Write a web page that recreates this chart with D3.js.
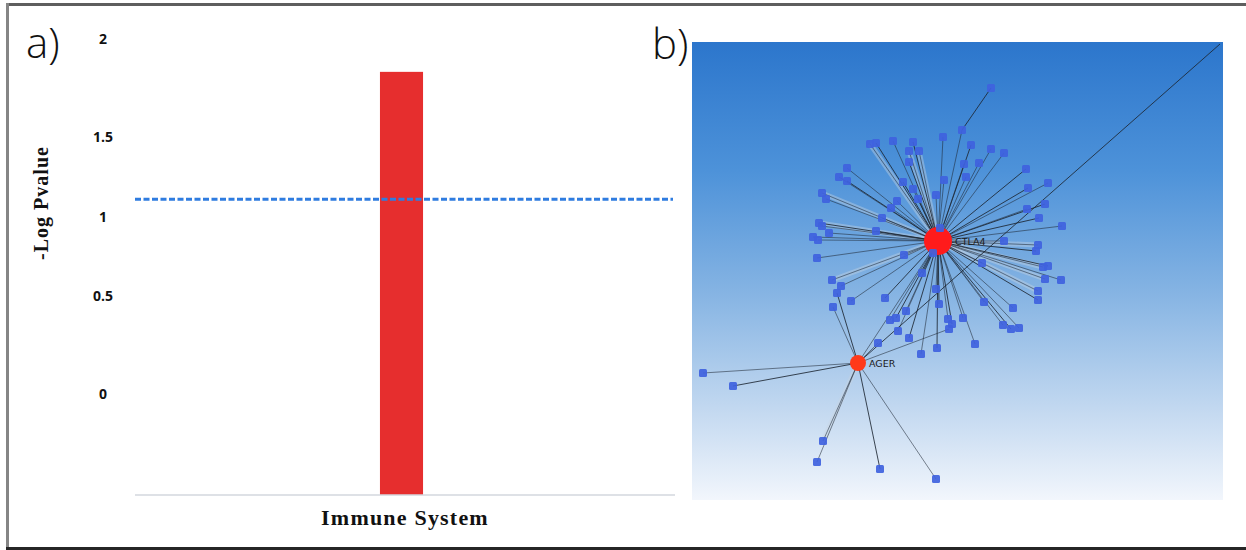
<!DOCTYPE html>
<html>
<head>
<meta charset="utf-8">
<script src="https://cdn.jsdelivr.net/npm/d3@7"></script>
<style>
  body { margin: 0; background: #fff; }
  svg { display: block; }
</style>
</head>
<body>
<div id="figure"></div>
<script>
// 1: DATA
const barCategories = ["Immune System"];
const barValues = [1.86];
const threshold = 1.3;          // -log10(0.05)
const yTickValues = [0, 0.5, 1, 1.5, 2];
const yTickLabels = ["0", "0.5", "1", "1.5", "2"];
// where the printed tick labels sit (the source figure spaces them unevenly)
const yTickPositions = [394, 296, 217, 137, 39];

// network hubs and gene nodes, in layout units (panel pixels)
const hubs = [
  { id: "CTLA4", x: 246, y: 199, r: 14, color: "#ff1b1b" },
  { id: "AGER", x: 166, y: 321, r: 8, color: "#ff3a1a" }
];
// [x, y, linked to, wide band?]
const genes = [
  [299, 46, 1], [270, 88, "CTLA4"], [251, 95, "CTLA4"], [221, 100, "CTLA4"], [201, 99, "CTLA4"],
  [178, 102, "CTLA4", 1], [184, 101, "CTLA4"], [217, 109, "CTLA4", 1], [227, 109, "CTLA4", 1],
  [279, 103, "CTLA4"], [299, 107, "CTLA4"], [312, 111, "CTLA4"], [217, 120, "CTLA4"],
  [272, 122, "CTLA4"], [287, 121, "CTLA4"], [334, 127, "CTLA4"], [155, 126, "CTLA4"],
  [147, 135, "CTLA4"], [155, 139, "CTLA4"], [274, 135, "CTLA4"], [252, 138, "CTLA4"],
  [211, 140, "CTLA4"], [221, 147, "CTLA4"], [356, 141, "CTLA4"], [336, 146, "CTLA4"],
  [130, 151, "CTLA4", 1], [134, 157, "CTLA4"], [226, 157, "CTLA4"], [244, 153, "CTLA4"],
  [205, 159, "CTLA4"], [353, 162, "CTLA4"], [199, 166, "CTLA4"], [335, 167, "CTLA4"],
  [347, 176, "CTLA4"], [370, 184, "CTLA4"], [190, 176, "CTLA4"], [127, 181, "CTLA4", 1],
  [130, 184, "CTLA4"], [137, 191, "CTLA4"], [184, 189, "CTLA4"], [121, 195, "CTLA4"],
  [126, 198, "CTLA4"], [248, 186, "CTLA4"], [312, 199, "CTLA4"], [346, 203, "CTLA4", 1],
  [344, 209, "CTLA4"], [125, 216, "CTLA4"], [212, 213, "CTLA4"], [241, 211, "CTLA4"],
  [290, 221, "CTLA4"], [351, 225, "CTLA4", 1], [356, 224, "CTLA4"], [353, 237, "CTLA4", 1],
  [369, 238, "CTLA4"], [230, 231, "CTLA4"], [140, 238, "CTLA4", 1], [149, 244, "CTLA4"],
  [145, 251, "AGER"], [244, 247, "CTLA4"], [346, 249, "CTLA4", 1], [346, 258, "CTLA4"],
  [159, 259, "CTLA4"], [141, 265, "AGER"], [193, 256, "CTLA4"], [292, 260, "CTLA4"],
  [321, 266, "CTLA4"], [247, 262, "CTLA4"], [214, 269, "CTLA4"], [198, 278, "CTLA4"],
  [204, 276, "CTLA4"], [271, 276, "CTLA4"], [256, 277, "CTLA4"], [260, 282, "CTLA4"],
  [257, 287, "AGER"], [311, 283, "CTLA4"], [319, 287, "CTLA4"], [327, 286, "CTLA4"],
  [206, 289, "CTLA4"], [217, 296, "CTLA4"], [283, 302, "CTLA4"], [186, 301, "AGER"],
  [245, 306, "CTLA4"], [229, 312, "CTLA4"],
  [11, 331, "AGER"], [41, 344, "AGER"], [131, 399, "AGER", 1], [125, 420, "AGER"],
  [188, 427, "AGER"], [244, 437, "AGER"]
];
const hubLinks = [["CTLA4", "AGER"], [{ x: 528, y: 2 }, "AGER"]];

// 2: SVG
const W = 1246, H = 550;
const svg = d3.select("#figure").append("svg")
  .attr("width", W)
  .attr("height", H);

// figure frame
svg.append("line").attr("x1", 8).attr("x2", W).attr("y1", 4.5).attr("y2", 4.5)
  .attr("stroke", "#5e5e5e").attr("stroke-width", 3);
svg.append("line").attr("x1", 7.5).attr("x2", 7.5).attr("y1", 3).attr("y2", 549)
  .attr("stroke", "#858585").attr("stroke-width", 3);
svg.append("line").attr("x1", 6).attr("x2", W).attr("y1", 548.5).attr("y2", 548.5)
  .attr("stroke", "#262626").attr("stroke-width", 3);

// panel letters
svg.append("text").attr("x", 26).attr("y", 58)
  .style("font-family", "'Open Sans', sans-serif").style("font-size", "42px")
  .style("font-weight", 300).attr("fill", "#111").text("a)");
svg.append("text").attr("x", 652).attr("y", 59)
  .style("font-family", "'Open Sans', sans-serif").style("font-size", "42px")
  .style("font-weight", 300).attr("fill", "#111").text("b)");

// 3: PANEL A - BAR CHART
const plot = { left: 135, right: 675, top: 40, bottom: 495 };

const x = d3.scaleBand()
  .domain(barCategories)
  .range([130, 673])
  .padding(0.853);

const y = d3.scaleLinear()
  .domain([0, 2])
  .range([plot.bottom, plot.top]);

// printed labels follow the source figure's own spacing
const yLabel = d3.scaleLinear()
  .domain(yTickValues)
  .range(yTickPositions);

const yAxis = svg.append("g")
  .attr("transform", "translate(111,0)")
  .call(d3.axisLeft(yLabel)
    .tickValues(yTickValues)
    .tickFormat((d, i) => yTickLabels[i])
    .tickSize(0)
    .tickPadding(0));
yAxis.select(".domain").remove();
yAxis.selectAll("text")
  .attr("x", -8)
  .attr("text-anchor", "middle")
  .style("font-family", "'Open Sans', sans-serif")
  .style("font-size", "14px")
  .style("font-weight", "bold")
  .attr("fill", "#111");

svg.selectAll(".bar")
  .data(barValues)
  .enter().append("rect")
  .attr("class", "bar")
  .attr("x", (d, i) => x(barCategories[i]))
  .attr("y", d => y(d))
  .attr("width", x.bandwidth())
  .attr("height", d => y(0) - y(d))
  .attr("fill", "#e62e2e");

// baseline
svg.append("line")
  .attr("x1", plot.left).attr("x2", plot.right)
  .attr("y1", y(0)).attr("y2", y(0))
  .attr("stroke", "#d3d7de").attr("stroke-width", 1.5);

// significance line
svg.append("line")
  .attr("x1", plot.left).attr("x2", plot.right - 2)
  .attr("y1", y(threshold)).attr("y2", y(threshold))
  .attr("stroke", "#2f7ce0").attr("stroke-width", 3)
  .attr("stroke-dasharray", "6,2.5");

// axis titles
svg.append("text")
  .attr("x", (plot.left + plot.right) / 2)
  .attr("y", 525)
  .attr("text-anchor", "middle")
  .style("font-family", "'Liberation Serif', serif")
  .style("font-size", "22px")
  .style("font-weight", "bold")
  .style("letter-spacing", "1.2px")
  .attr("fill", "#111")
  .text("Immune System");

svg.append("text")
  .attr("transform", "translate(48,203) rotate(-90)")
  .attr("text-anchor", "middle")
  .style("font-family", "'Liberation Serif', serif")
  .style("font-size", "20px")
  .style("font-weight", "bold")
  .style("letter-spacing", "1px")
  .attr("fill", "#111")
  .text("-Log Pvalue");

// 4: PANEL B - NETWORK
const net = { x: 692, y: 42, w: 531, h: 458 };

const defs = svg.append("defs");
const grad = defs.append("linearGradient")
  .attr("id", "bg").attr("x1", 0).attr("x2", 0).attr("y1", 0).attr("y2", 1);
[[0, "#2c76cc"], [0.28, "#4d92d9"], [0.55, "#86b4e3"], [0.8, "#c2d8f0"], [1, "#f2f6fc"]]
  .forEach(([o, c]) => grad.append("stop").attr("offset", o).attr("stop-color", c));

svg.append("rect")
  .attr("x", net.x).attr("y", net.y)
  .attr("width", net.w).attr("height", net.h)
  .attr("fill", "url(#bg)");

const nx = d3.scaleLinear().domain([0, net.w]).range([net.x, net.x + net.w]);
const ny = d3.scaleLinear().domain([0, net.h]).range([net.y, net.y + net.h]);

const hubById = new Map(hubs.map(h => [h.id, h]));
const nodeOf = ref => typeof ref === "string" ? hubById.get(ref)
  : typeof ref === "number" ? { x: genes[ref][0], y: genes[ref][1] } : ref;

const links = genes.map(g => ({ source: { x: g[0], y: g[1] }, target: nodeOf(g[2]), band: !!g[3] }))
  .concat(hubLinks.map(([s, t]) => ({ source: nodeOf(s), target: nodeOf(t), band: false })));

const gNet = svg.append("g");

// pale wide bands behind some edges
gNet.append("g").selectAll("line")
  .data(links.filter(d => d.band))
  .enter().append("line")
  .attr("x1", d => nx(d.source.x)).attr("y1", d => ny(d.source.y))
  .attr("x2", d => nx(d.target.x)).attr("y2", d => ny(d.target.y))
  .attr("stroke", "#c9d5e0").attr("stroke-opacity", 0.4)
  .attr("stroke-width", 5);

gNet.append("g").selectAll("line")
  .data(links)
  .enter().append("line")
  .attr("x1", d => nx(d.source.x)).attr("y1", d => ny(d.source.y))
  .attr("x2", d => nx(d.target.x)).attr("y2", d => ny(d.target.y))
  .attr("stroke", "#1d2733")
  .attr("stroke-opacity", (d, i) => i % 3 === 0 ? 0.85 : 0.55)
  .attr("stroke-width", 1);

gNet.append("g").selectAll("circle")
  .data(hubs)
  .enter().append("circle")
  .attr("cx", d => nx(d.x)).attr("cy", d => ny(d.y))
  .attr("r", d => d.r)
  .attr("fill", d => d.color);

gNet.append("g").selectAll("rect")
  .data(genes)
  .enter().append("rect")
  .attr("x", d => nx(d[0]) - 4).attr("y", d => ny(d[1]) - 4)
  .attr("width", 8).attr("height", 8)
  .attr("rx", 1.5)
  .attr("fill", "#3f62de")
  .attr("fill-opacity", 0.92);

gNet.append("g").selectAll("text")
  .data(hubs)
  .enter().append("text")
  .attr("x", d => nx(d.x) + d.r + 3)
  .attr("y", d => ny(d.y) + 3.5)
  .style("font-family", "'DejaVu Sans', sans-serif")
  .style("font-size", "9.5px")
  .attr("fill", "#1a1a1a")
  .text(d => d.id);
</script>
</body>
</html>
